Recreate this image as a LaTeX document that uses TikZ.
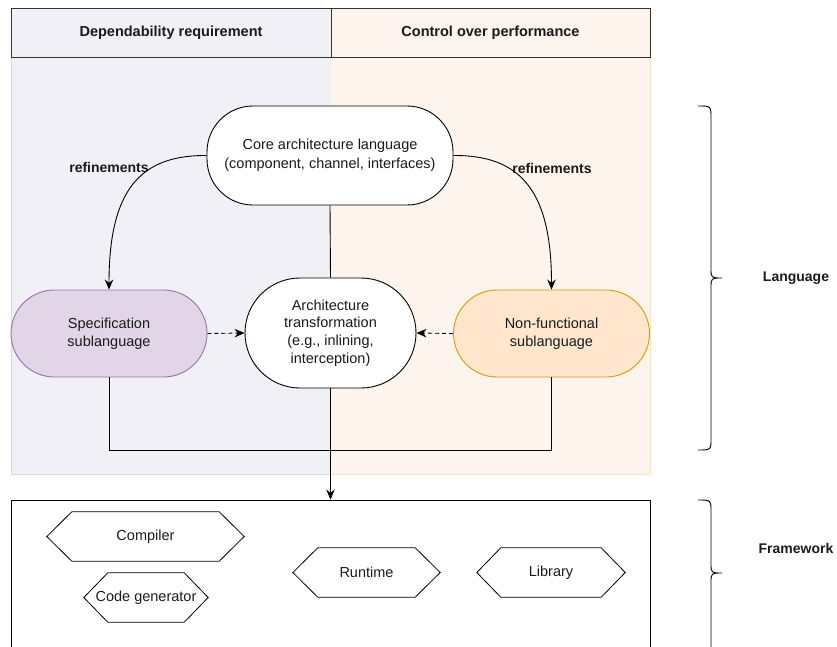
\documentclass[tikz,border=0pt]{standalone}
\usepackage{fontspec}
\setmainfont{Liberation Sans}
\usetikzlibrary{shapes.misc,shapes.geometric,arrows.meta,calc}
\definecolor{lpanel}{HTML}{F2F0F7}
\definecolor{lpanelb}{HTML}{DDD4E8}
\definecolor{rpanel}{HTML}{FDF4EE}
\definecolor{rpanelb}{HTML}{F8E3C5}
\definecolor{specfill}{HTML}{E1D5E7}
\definecolor{specdraw}{HTML}{9673A6}
\definecolor{nffill}{HTML}{FFE6CC}
\definecolor{nfdraw}{HTML}{D79B00}
\definecolor{hdrdraw}{HTML}{333333}
\definecolor{txt}{HTML}{1A1A1A}
\begin{document}
\begin{tikzpicture}[x=1pt,y=-1pt,
  every node/.style={font=\fontsize{14.5}{18}\selectfont, text=txt, align=center, inner sep=0pt},
  boldlbl/.style={font=\fontsize{14}{18}\selectfont\bfseries},
  hdr/.style={draw=hdrdraw, line width=0.9pt, minimum width=320pt, minimum height=49pt, font=\fontsize{14.5}{18}\selectfont\bfseries},
  pill/.style={rounded rectangle, draw, line width=0.9pt, minimum width=196pt, minimum height=87pt},
  hexbox/.style={minimum height=49pt},
  hexline/.style={line width=0.8pt, draw=black},
  conn/.style={line width=0.9pt},
  arr/.style={line width=0.9pt, -{Stealth[length=10pt,width=8.5pt]}},
  darr/.style={line width=0.9pt, dash pattern=on 4pt off 3pt, -{Stealth[length=10pt,width=8.5pt]}}
]
\useasboundingbox (0,0) rectangle (837,646);
% panels
\fill[lpanel] (11,57) rectangle (331,474);
\fill[rpanel] (331,57) rectangle (650,474);
\draw[lpanelb, line width=0.9pt] (331,474) -- (11,474) -- (11,57);
\draw[rpanelb, line width=0.9pt] (331,474) -- (650,474) -- (650,57);
% headers
\node[hdr, fill=lpanel] (h1) at (171,32.5) {Dependability requirement};
\node[hdr, fill=rpanel, minimum width=319pt] (h2) at (490.5,32.5) {Control over performance};
% nodes
\node[draw, fill=white, line width=0.9pt, rounded corners=46pt, minimum width=246pt, minimum height=99pt, font=\fontsize{14.5}{19}\selectfont] (core) at (330,155.5) {Core architecture language\\(component, channel, interfaces)};
\node[pill, fill=specfill, draw=specdraw] (spec) at (109,333.5) {Specification\\sublanguage};
\node[pill, fill=nffill, draw=nfdraw] (nf) at (551.5,333.5) {Non-functional\\sublanguage};
\node[rounded rectangle, draw, fill=white, line width=0.9pt, minimum width=171pt, minimum height=110pt, font=\fontsize{14.5}{17.7}\selectfont] (arch) at (330.5,333) {Architecture\\transformation\\(e.g., inlining,\\interception)};
% framework box
\node[draw, line width=0.9pt, minimum width=639pt, minimum height=148pt] (fw) at (330.5,574) {};
\node[hexbox, minimum width=197pt] (comp) at (145.5,536.5) {Compiler};
\node[hexbox, minimum width=124pt] (cg) at (146,597.5) {Code generator};
\node[hexbox, minimum width=147pt] (rt) at (366.5,572.5) {Runtime};
\node[hexbox, minimum width=148pt] (lib) at (551,572.5) {Library};
\foreach \n/\d in {comp/25, cg/24, rt/25, lib/24}{
  \draw[hexline] ($(\n.north west)+(\d,0)$) -- ($(\n.north east)+(-\d,0)$) -- (\n.east) -- ($(\n.south east)+(-\d,0)$) -- ($(\n.south west)+(\d,0)$) -- (\n.west) -- cycle;
}
% connectors
\draw[conn] (core.south) -- (arch.north);
\draw[arr] (core.west) .. controls (140,155) and (109,190) .. (spec.north);
\draw[arr] (core.east) .. controls (520,155) and (551.5,190) .. (nf.north);
\node[boldlbl] (r1) at (109,167.5) {refinements};
\node[boldlbl] (r2) at (552,168.5) {refinements};
\draw[darr] (spec.east) -- (arch.west);
\draw[darr] (nf.west) -- (arch.east);
\coordinate (j) at (330.5,450);
\draw[conn] (spec.south) |- (j) -| (nf.south);
\draw[arr] (arch.south) -- (arch.south |- fw.north);
% braces
\draw[line width=0.9pt] (698,106) .. controls (711,106) .. (711,118) -- (711,268) .. controls (711,278) .. (722,278) .. controls (711,278) .. (711,288) -- (711,438) .. controls (711,450) .. (698,450);
\draw[line width=0.9pt] (698,500) .. controls (711,500) .. (711,512) -- (711,563) .. controls (711,573) .. (722,573) .. controls (711,573) .. (711,583) -- (711,660);
\node[boldlbl] (lang) at (796,278) {Language};
\node[boldlbl] (fwl) at (796,548) {Framework};
\end{tikzpicture}
\end{document}
